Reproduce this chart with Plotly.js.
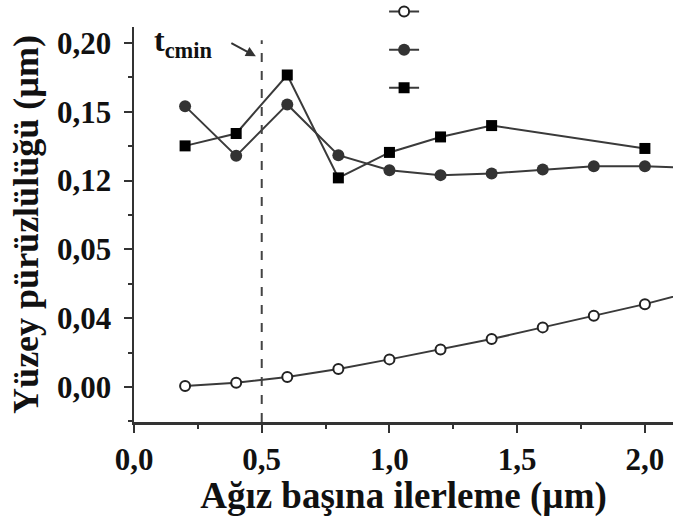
<!DOCTYPE html>
<html>
<head>
<meta charset="utf-8">
<script src="https://cdn.plot.ly/plotly-3.0.1.min.js"></script>
<style>html,body{margin:0;padding:0;background:#fff;}#chart{width:673px;height:517px;}</style>
</head>
<body>
<div id="chart"></div>
<script>
// Data (on the chart's uniform y scale)
const feed = [0.2, 0.4, 0.6, 0.8, 1.0, 1.2, 1.4, 1.6, 1.8, 2.0, 2.2];
const openCircle = [0.0006, 0.0025, 0.0058, 0.0105, 0.0161, 0.0219, 0.0279, 0.0347, 0.0414, 0.0482, 0.0560];
const filledCircle = [0.1633, 0.1344, 0.1643, 0.1348, 0.1261, 0.1232, 0.1242, 0.1265, 0.1284, 0.1284, 0.1272];
const feedSquare = [0.2, 0.4, 0.6, 0.8, 1.0, 1.2, 1.4, 2.0];
const square = [0.1402, 0.1474, 0.1814, 0.1216, 0.1364, 0.1454, 0.1520, 0.1387];
const yTickVals = [0.00, 0.04, 0.08, 0.12, 0.16, 0.20];
const yTickText = ['0,00', '0,04', '0,05', '0,12', '0,15', '0,20'];
const xTickVals = [0.0, 0.5, 1.0, 1.5, 2.0];
const xTickText = ['0,0', '0,5', '1,0', '1,5', '2,0'];
const tcmin = 0.5;

const font = 'Liberation Serif, Times New Roman, serif';
const ink = '#111';
const lineCol = '#3a3a3a';

const traces = [
  {x: feed, y: openCircle, name: ' ', mode: 'lines+markers', type: 'scatter',
   line: {color: lineCol, width: 2},
   marker: {symbol: 'circle', size: 10, color: '#fff', line: {color: '#222', width: 2}}},
  {x: feed, y: filledCircle, name: ' ', mode: 'lines+markers', type: 'scatter',
   line: {color: lineCol, width: 2},
   marker: {symbol: 'circle', size: 12, color: '#333'}},
  {x: feedSquare, y: square, name: ' ', mode: 'lines+markers', type: 'scatter',
   line: {color: lineCol, width: 2},
   marker: {symbol: 'square', size: 11, color: '#000'}}
];

const layout = {
  width: 673, height: 517,
  margin: {l: 134, r: 0, t: 27, b: 95, autoexpand: false},
  paper_bgcolor: '#fff', plot_bgcolor: '#fff',
  font: {family: font, color: ink},
  showlegend: true,
  legend: {x: 0.464, y: 1.10, xanchor: 'left', yanchor: 'top',
           font: {family: font, size: 27, color: ink}, bgcolor: 'rgba(0,0,0,0)',
           itemwidth: 30},
  xaxis: {
    range: [0, 2.11], showgrid: false, zeroline: false,
    showline: true, linecolor: '#333', linewidth: 2.5,
    ticks: 'outside', ticklen: 8, tickwidth: 2, tickcolor: '#333',
    tickmode: 'array', tickvals: xTickVals, ticktext: xTickText,
    minor: {ticks: 'outside', ticklen: 4, tickwidth: 2, tickcolor: '#333', dtick: 0.25, tick0: 0},
    tickfont: {family: font, size: 31, color: ink, weight: 'bold'},
    title: {text: '<b>Ağız başına ilerleme (µm)</b>', font: {family: font, size: 37, color: ink}, standoff: 7}
  },
  yaxis: {
    range: [-0.0203, 0.2093], showgrid: false, zeroline: false,
    showline: true, linecolor: '#333', linewidth: 2.5,
    ticks: 'outside', ticklen: 8, tickwidth: 2, tickcolor: '#333',
    tickmode: 'array', tickvals: yTickVals, ticktext: yTickText,
    minor: {ticks: 'outside', ticklen: 4, tickwidth: 2, tickcolor: '#333', dtick: 0.02, tick0: 0},
    ticklabelstandoff: 6,
    tickfont: {family: font, size: 31, color: ink, weight: 'bold'},
    title: {text: '<b>Yüzey pürüzlülüğü (µm)</b>', font: {family: font, size: 36, color: ink}, standoff: 8}
  },
  shapes: [
    {type: 'line', xref: 'x', yref: 'y', x0: tcmin, x1: tcmin, y0: -0.0203, y1: 0.2016,
     line: {color: '#444', width: 2, dash: 'dash'}}
  ],
  annotations: [
    {xref: 'x', yref: 'y', x: 0.19, y: 0.2005, showarrow: false,
     text: '<b>t<sub>cmin</sub></b>', font: {family: font, size: 32, color: ink}},
    {xref: 'x', yref: 'y', x: 0.477, y: 0.1923, ax: -26, ay: -14, text: '',
     showarrow: true, arrowhead: 2, arrowsize: 1, arrowwidth: 2, arrowcolor: '#333'}
  ]
};

Plotly.newPlot('chart', traces, layout, {displayModeBar: false, staticPlot: true});
</script>
</body>
</html>
